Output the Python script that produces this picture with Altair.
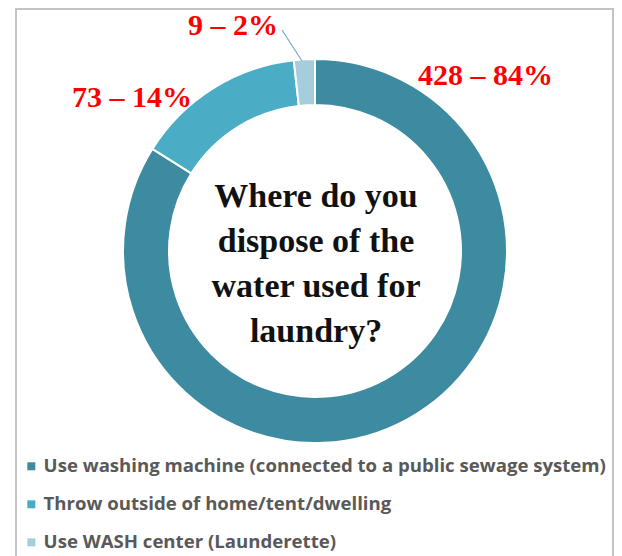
import altair as alt
import pandas as pd

categories = [
    "Use washing machine (connected to a public sewage system)",
    "Throw outside of home/tent/dwelling",
    "Use WASH center (Launderette)",
]
counts = [428, 73, 9]
percents = [84, 14, 2]
colors = ["#3D8BA1", "#4BACC6", "#A6CDDC"]
title_text = ["Where do you", "dispose of the", "water used for", "laundry?"]

W, H = 606, 548
CX, CY = 307, 243

df = pd.DataFrame({"category": categories, "count": counts, "order": [0, 1, 2]})

donut = alt.Chart(df).mark_arc(innerRadius=146, outerRadius=192, stroke="white", strokeWidth=2).encode(
    theta=alt.Theta("count:Q", stack=True),
    order=alt.Order("order:Q"),
    x=alt.value(CX),
    y=alt.value(CY),
    color=alt.Color(
        "category:N",
        scale=alt.Scale(domain=categories, range=colors),
        sort=categories,
        legend=alt.Legend(
            title=None,
            orient="none",
            legendX=14,
            legendY=449,
            padding=0,
            symbolType="square",
            symbolSize=64,
            symbolStrokeWidth=0,
            labelFont="Open Sans",
            labelFontWeight="bold",
            labelFontSize=18.6,
            labelColor="#595959",
            labelLimit=700,
            labelOffset=3,
            rowPadding=19,
        ),
    ),
)

lab_df = pd.DataFrame({
    "text": [f"{c} \u2013 {p}%" for c, p in zip(counts, percents)],
    "px": [410, 64, 270],
    "py": [77, 99, 27],
    "al": ["left", "left", "right"],
})

labels_left = alt.Chart(lab_df).transform_filter(alt.datum.al == "left").mark_text(
    font="Liberation Serif", fontWeight="bold", fontSize=30, color="#FF0000", baseline="alphabetic", align="left"
).encode(
    x=alt.X("px:Q", scale=None),
    y=alt.Y("py:Q", scale=None),
    text="text:N",
)
labels_right = alt.Chart(lab_df).transform_filter(alt.datum.al == "right").mark_text(
    font="Liberation Serif", fontWeight="bold", fontSize=30, color="#FF0000", baseline="alphabetic", align="right"
).encode(
    x=alt.X("px:Q", scale=None),
    y=alt.Y("py:Q", scale=None),
    text="text:N",
)

leader = alt.Chart(pd.DataFrame({"a": [0]})).mark_rule(color="#7EA6D2", strokeWidth=1.2).encode(
    x=alt.value(274), y=alt.value(22), x2=alt.value(294), y2=alt.value(53)
)

center = alt.Chart(pd.DataFrame({"t": [title_text]})).mark_text(
    font="Liberation Serif", fontWeight="bold", fontSize=34, color="#111111",
    baseline="alphabetic", align="center", lineHeight=45,
).encode(x=alt.value(CX + 1), y=alt.value(199), text="t")

frame_col = "#C4C4C4"
frame_left = alt.Chart(pd.DataFrame({"a": [0]})).mark_rule(color=frame_col, strokeWidth=2).encode(
    x=alt.value(8), y=alt.value(0), y2=alt.value(H)
)
frame_top = alt.Chart(pd.DataFrame({"a": [0]})).mark_rule(color=frame_col, strokeWidth=2).encode(
    x=alt.value(7), x2=alt.value(606), y=alt.value(1)
)
frame_right = alt.Chart(pd.DataFrame({"a": [0]})).mark_rule(color=frame_col, strokeWidth=2).encode(
    x=alt.value(605), y=alt.value(0), y2=alt.value(H)
)

chart = alt.layer(
    frame_left, frame_top, frame_right, donut, leader, labels_left, labels_right, center
).properties(
    width=W, height=H, padding=0, autosize=alt.AutoSizeParams(type="none")
).configure_view(stroke=None).resolve_scale(x="independent", y="independent")

chart.save("out.html", embed_options={"renderer": "svg", "actions": False})
